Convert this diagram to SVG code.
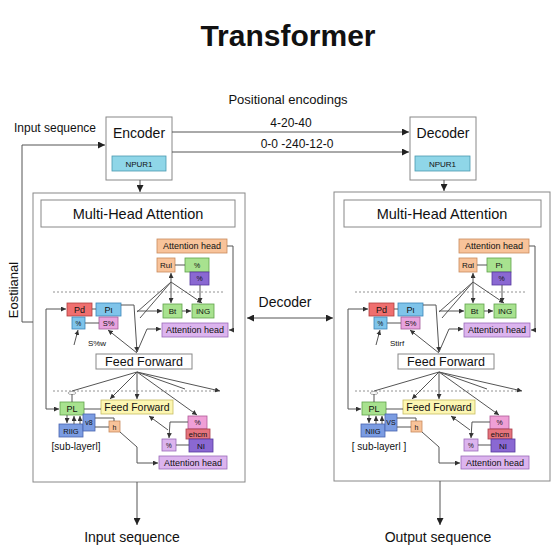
<svg xmlns="http://www.w3.org/2000/svg" width="560" height="560" viewBox="0 0 560 560">
<defs>
<marker id="ah" viewBox="0 0 10 10" refX="10" refY="5" markerWidth="5" markerHeight="5" orient="auto-start-reverse"><path d="M0,0 L10,5 L0,10 z" fill="#333"/></marker>
<marker id="ahb" viewBox="0 0 10 10" refX="10" refY="5" markerWidth="8" markerHeight="7" orient="auto-start-reverse" markerUnits="userSpaceOnUse"><path d="M0,0 L10,5 L0,10 z" fill="#222"/></marker>
</defs>
<style>
.t{font-family:"Liberation Sans",Arial,sans-serif;fill:#111;text-anchor:middle}
.ln{stroke:#555;stroke-width:1;fill:none}
.a{marker-end:url(#ah)}
.ab{marker-end:url(#ahb)}
.dash{stroke:#777;stroke-width:0.8;stroke-dasharray:2,2;fill:none}
.wb{fill:#fff;stroke:#888;stroke-width:1}
.or{fill:#f8c39a;stroke:#c98a5c;stroke-width:0.8}
.gr{fill:#a8e28f;stroke:#5fa24a;stroke-width:0.8}
.dp{fill:#8a68d2;stroke:#55399e;stroke-width:0.8}
.lp{fill:#dcb4ee;stroke:#9a6ab8;stroke-width:0.8}
.rd{fill:#ef6f6f;stroke:#b04040;stroke-width:0.8}
.rd2{fill:#e5747e;stroke:#a83c4a;stroke-width:0.8}
.bl{fill:#7fc4ea;stroke:#3a86b8;stroke-width:0.8}
.bb{fill:#7b9ce2;stroke:#4a64b0;stroke-width:0.8}
.pk{fill:#e8a3de;stroke:#a45a98;stroke-width:0.8}
.pk2{fill:#ef9fd6;stroke:#b05a98;stroke-width:0.8}
.yl{fill:#fcf6b2;stroke:#c9bd62;stroke-width:0.8}
.np{fill:#8fd6e8;stroke:#4a9ab0;stroke-width:0.8}
</style>
<rect width="560" height="560" fill="#fff"/>

<text class="t" x="288" y="46" font-size="30" font-weight="bold">Transformer</text>
<text class="t" x="288" y="104" font-size="13">Positional encodings</text>
<text class="t" x="55" y="132" font-size="12">Input sequence</text>
<text class="t" x="291" y="127" font-size="12">4-20-40</text>
<text class="t" x="297" y="148" font-size="12">0-0 -240-12-0</text>
<text class="t" transform="translate(18,290) rotate(-90)" font-size="13">Eostiianal</text>
<text class="t" x="285" y="307" font-size="14">Decoder</text>
<text class="t" x="132" y="542" font-size="14">Input sequence</text>
<text class="t" x="438" y="542" font-size="14">Output sequence</text>

<g id="encoder">
<rect class="wb" x="106" y="117" width="66" height="63"/>
<text class="t" x="139" y="138" font-size="14">Encoder</text>
<rect class="np" x="112" y="156" width="54" height="15"/>
<text class="t" x="139" y="166.5" font-size="8">NPUR1</text>
</g>
<g id="decoder">
<rect class="wb" x="410" y="117" width="66" height="63"/>
<text class="t" x="443" y="138" font-size="14">Decoder</text>
<rect class="np" x="415" y="156" width="55" height="15"/>
<text class="t" x="442.5" y="166.5" font-size="8">NPUR1</text>
</g>

<g id="panel-encoder-frame"><rect class="wb" x="33" y="193" width="212" height="289"/></g>
<g id="panel-decoder-frame"><rect class="wb" x="334" y="192" width="216" height="289"/></g>

<g id="top-connectors">
<path class="ln ab" d="M172,132 H409"/>
<path class="ln ab" d="M172,152 H409"/>
<path class="ln ab" d="M22,322 V145 H105"/>
<path class="ln" d="M22,322 H33"/>
<path class="ln ab" d="M140,180 V192"/>
<path class="ln ab" d="M444,180 V191"/>
<path class="ln ab" d="M137,482 V525" style="marker-end:url(#ahb)"/>
<path class="ln ab" d="M440,481 V525"/>
<path class="ln" d="M247,318 H333" style="marker-start:url(#ahb);marker-end:url(#ahb)"/>
</g>

<!-- LEFT PANEL -->
<g id="enc-inner">
<g id="enc-mha"><rect class="wb" x="41" y="200" width="194" height="27"/><text class="t" x="138" y="218.5" font-size="14.5">Multi-Head Attention</text></g>
<g id="enc-ah1"><rect class="or" x="157" y="239" width="70" height="14"/><text class="t" x="192" y="249.3" font-size="9">Attention head</text></g>
<g id="enc-rul"><rect class="or" x="157" y="258" width="18" height="14"/><text class="t" x="166" y="268" font-size="8">Rul</text></g>
<g id="enc-g1"><rect class="gr" x="185" y="258" width="24" height="14"/><text class="t" x="197" y="267.5" font-size="7">%</text></g>
<g id="enc-p1"><rect class="dp" x="190" y="272" width="19" height="13"/><text class="t" x="199.5" y="281" font-size="7">%</text></g>
<g id="enc-bt"><rect class="gr" x="163" y="304" width="19" height="14"/><text class="t" x="172.5" y="314" font-size="8">Bt</text></g>
<g id="enc-ing"><rect class="gr" x="192" y="304" width="22" height="14"/><text class="t" x="203" y="314" font-size="8">ING</text></g>
<g id="enc-ah2"><rect class="lp" x="162" y="323" width="66" height="14"/><text class="t" x="195" y="333.3" font-size="9">Attention head</text></g>
<g id="enc-pd"><rect class="rd" x="67" y="303" width="25" height="13"/><text class="t" x="79.5" y="312.8" font-size="9">Pd</text></g>
<g id="enc-pl"><rect class="bl" x="96" y="303" width="25" height="13"/><text class="t" x="108.5" y="312.8" font-size="9">Pι</text></g>
<g id="enc-pc"><rect class="bl" x="72" y="317" width="13" height="12"/><text class="t" x="78.5" y="325.5" font-size="6.5">%</text></g>
<g id="enc-ps"><rect class="pk" x="99" y="317" width="19" height="12"/><text class="t" x="108.5" y="326" font-size="7.5">S%</text></g>
<text class="t" x="97" y="346" font-size="8">S%w</text>
<g id="enc-ff"><rect class="wb" x="96" y="354" width="96" height="15"/><text class="t" x="144" y="366" font-size="12.5">Feed Forward</text></g>
<g id="enc-PL"><rect class="gr" x="60" y="402" width="24" height="13"/><text class="t" x="72" y="411.8" font-size="9">PL</text></g>
<g id="enc-riig"><rect class="bb" x="59" y="424" width="24" height="13"/><text class="t" x="71" y="433.5" font-size="7.5">RIIG</text></g>
<g id="enc-v8"><rect class="bb" x="83" y="414" width="12" height="17"/><text class="t" x="89" y="425" font-size="7">v8</text></g>
<g id="enc-h"><rect class="or" x="109" y="421" width="11" height="11"/><text class="t" x="114.5" y="429.5" font-size="7">h</text></g>
<g id="enc-ff2"><rect class="yl" x="101" y="400" width="72" height="14"/><text class="t" x="137" y="410.8" font-size="10.5">Feed Forward</text></g>
<text class="t" x="76" y="450" font-size="10">[sub-layerl]</text>
<g id="enc-pk2"><rect class="pk2" x="188" y="416" width="19" height="13"/><text class="t" x="197.5" y="425" font-size="7">%</text></g>
<g id="enc-ehcm"><rect class="rd2" x="186" y="429" width="24" height="10"/><text class="t" x="198" y="437" font-size="7.5">ehcm</text></g>
<g id="enc-ni"><rect class="dp" x="189" y="439" width="24" height="13"/><text class="t" x="201" y="448.5" font-size="8">NI</text></g>
<g id="enc-lps"><rect class="lp" x="162" y="439" width="14" height="12"/><text class="t" x="169" y="447.5" font-size="6.5">%</text></g>
<g id="enc-ah3"><rect class="lp" x="159" y="456" width="68" height="13"/><text class="t" x="193" y="465.8" font-size="9">Attention head</text></g>
</g>
<g id="enc-connectors">
<path class="dash" d="M53,292 H224"/>
<path class="dash" d="M53,391 H217"/>
<path class="ln" d="M92,309 H96 M85,323 H99 M175,265 H185 M84,409 H101 M95,418 H114 V421 M95,427 H109 M176,445 H189"/>
<path class="ln a" d="M46,360 V309 H66"/>
<path class="ln a" d="M46,360 V409 H59"/>
<path class="ln a" d="M121,305 H134 L137,352"/>
<path class="ln" d="M137,312 L171,282 M140,318 L171,282"/>
<path class="ln a" d="M171,282 V273"/>
<path class="ln a" d="M171,282 V303"/>
<path class="ln a" d="M171,282 L202,303"/>
<path class="ln a" d="M137,311 H162"/>
<path class="ln a" d="M200,285 V303"/>
<path class="ln a" d="M182,311 H191"/>
<path class="ln a" d="M227,246 H233 V330 H229"/>
<path class="ln a" d="M137,352 L147,329 H161"/>
<path class="ln a" d="M137,353 L108,330"/>
<path class="ln a" d="M74,345 L78,330"/>
<path class="ln" d="M137,372 L72,391"/>
<path class="ln a" d="M137,372 L110,399"/>
<path class="ln a" d="M137,372 V399"/>
<path class="ln a" d="M137,372 L197,415"/>
<path class="ln a" d="M137,372 L220,391"/>
<path class="ln" d="M137,372 L185,389"/>
<ellipse cx="72" cy="393" rx="4" ry="1.5" fill="none" stroke="#999" stroke-width="0.8"/>
<path class="ln" d="M72,394 V402"/>
<path class="ln a" d="M67,415 V423"/>
<path class="ln a" d="M74,424 V416"/>
<path class="ln a" d="M80,424 V416"/>
<path class="ln a" d="M120,432 L137,447 V463 H158"/>
<path class="ln a" d="M188,422 H170 L169,438"/>
<path class="ln a" d="M168,430 L149,416"/>
</g>

<!-- RIGHT PANEL -->
<g transform="translate(302,0)">
<g id="dec-inner">
<g id="dec-mha"><rect class="wb" x="42" y="200" width="197" height="27"/><text class="t" x="140" y="218.5" font-size="14.5">Multi-Head Attention</text></g>
<g id="dec-ah1"><rect class="or" x="157" y="239" width="70" height="14"/><text class="t" x="192" y="249.3" font-size="9">Attention head</text></g>
<g id="dec-rul"><rect class="or" x="157" y="258" width="18" height="14"/><text class="t" x="166" y="268" font-size="8">Rαl</text></g>
<g id="dec-g1"><rect class="gr" x="185" y="258" width="24" height="14"/><text class="t" x="197" y="268" font-size="8">Pι</text></g>
<g id="dec-p1"><rect class="dp" x="190" y="272" width="19" height="13"/><text class="t" x="199.5" y="281" font-size="7">%</text></g>
<g id="dec-bt"><rect class="gr" x="163" y="304" width="19" height="14"/><text class="t" x="172.5" y="314" font-size="8">Bt</text></g>
<g id="dec-ing"><rect class="gr" x="192" y="304" width="22" height="14"/><text class="t" x="203" y="314" font-size="8">ING</text></g>
<g id="dec-ah2"><rect class="lp" x="162" y="323" width="66" height="14"/><text class="t" x="195" y="333.3" font-size="9">Attention head</text></g>
<g id="dec-pd"><rect class="rd" x="67" y="303" width="25" height="13"/><text class="t" x="79.5" y="312.8" font-size="9">Pd</text></g>
<g id="dec-pl"><rect class="bl" x="96" y="303" width="25" height="13"/><text class="t" x="108.5" y="312.8" font-size="9">Pι</text></g>
<g id="dec-pc"><rect class="bl" x="72" y="317" width="13" height="12"/><text class="t" x="78.5" y="325.5" font-size="6.5">%</text></g>
<g id="dec-ps"><rect class="pk" x="99" y="317" width="19" height="12"/><text class="t" x="108.5" y="326" font-size="7.5">S%</text></g>
<text class="t" x="95" y="346" font-size="8">Stirf</text>
<g id="dec-ff"><rect class="wb" x="96" y="354" width="96" height="15"/><text class="t" x="144" y="366" font-size="12.5">Feed Forward</text></g>
<g id="dec-PL"><rect class="gr" x="60" y="402" width="24" height="13"/><text class="t" x="72" y="411.8" font-size="9">PL</text></g>
<g id="dec-niig"><rect class="bb" x="59" y="424" width="24" height="13"/><text class="t" x="71" y="433.5" font-size="7.5">NIIG</text></g>
<g id="dec-vs"><rect class="bb" x="83" y="414" width="12" height="17"/><text class="t" x="89" y="425" font-size="7">VS</text></g>
<g id="dec-h"><rect class="or" x="109" y="421" width="11" height="11"/><text class="t" x="114.5" y="429.5" font-size="7">h</text></g>
<g id="dec-ff2"><rect class="yl" x="101" y="400" width="72" height="14"/><text class="t" x="137" y="410.8" font-size="10.5">Feed Forward</text></g>
<text class="t" x="77" y="450" font-size="10">[ sub-layerl ]</text>
<g id="dec-pk2"><rect class="pk2" x="188" y="416" width="19" height="13"/><text class="t" x="197.5" y="425" font-size="7">%</text></g>
<g id="dec-ehcm"><rect class="rd2" x="186" y="429" width="24" height="10"/><text class="t" x="198" y="437" font-size="7.5">ehcm</text></g>
<g id="dec-ni"><rect class="dp" x="189" y="439" width="24" height="13"/><text class="t" x="201" y="448.5" font-size="8">NI</text></g>
<g id="dec-lps"><rect class="lp" x="162" y="439" width="14" height="12"/><text class="t" x="169" y="447.5" font-size="6.5">%</text></g>
<g id="dec-ah3"><rect class="lp" x="159" y="456" width="68" height="13"/><text class="t" x="193" y="465.8" font-size="9">Attention head</text></g>
</g>
<g id="dec-connectors">
<path class="dash" d="M53,292 H224"/>
<path class="dash" d="M53,391 H217"/>
<path class="ln" d="M92,309 H96 M85,323 H99 M175,265 H185 M84,409 H101 M95,418 H114 V421 M95,427 H109 M176,445 H189"/>
<path class="ln a" d="M46,360 V309 H66"/>
<path class="ln a" d="M46,360 V409 H59"/>
<path class="ln a" d="M121,305 H134 L137,352"/>
<path class="ln" d="M137,312 L171,282 M140,318 L171,282"/>
<path class="ln a" d="M171,282 V273"/>
<path class="ln a" d="M171,282 V303"/>
<path class="ln a" d="M171,282 L202,303"/>
<path class="ln a" d="M137,311 H162"/>
<path class="ln a" d="M200,285 V303"/>
<path class="ln a" d="M182,311 H191"/>
<path class="ln a" d="M227,246 H233 V330 H229"/>
<path class="ln a" d="M137,352 L147,329 H161"/>
<path class="ln a" d="M137,353 L108,330"/>
<path class="ln a" d="M74,345 L78,330"/>
<path class="ln" d="M137,372 L72,391"/>
<path class="ln a" d="M137,372 L110,399"/>
<path class="ln a" d="M137,372 V399"/>
<path class="ln a" d="M137,372 L197,415"/>
<path class="ln a" d="M137,372 L220,391"/>
<path class="ln" d="M137,372 L185,389"/>
<ellipse cx="72" cy="393" rx="4" ry="1.5" fill="none" stroke="#999" stroke-width="0.8"/>
<path class="ln" d="M72,394 V402"/>
<path class="ln a" d="M67,415 V423"/>
<path class="ln a" d="M74,424 V416"/>
<path class="ln a" d="M80,424 V416"/>
<path class="ln a" d="M120,432 L137,447 V463 H158"/>
<path class="ln a" d="M188,422 H170 L169,438"/>
<path class="ln a" d="M168,430 L149,416"/>
</g>
</g>
</svg>
